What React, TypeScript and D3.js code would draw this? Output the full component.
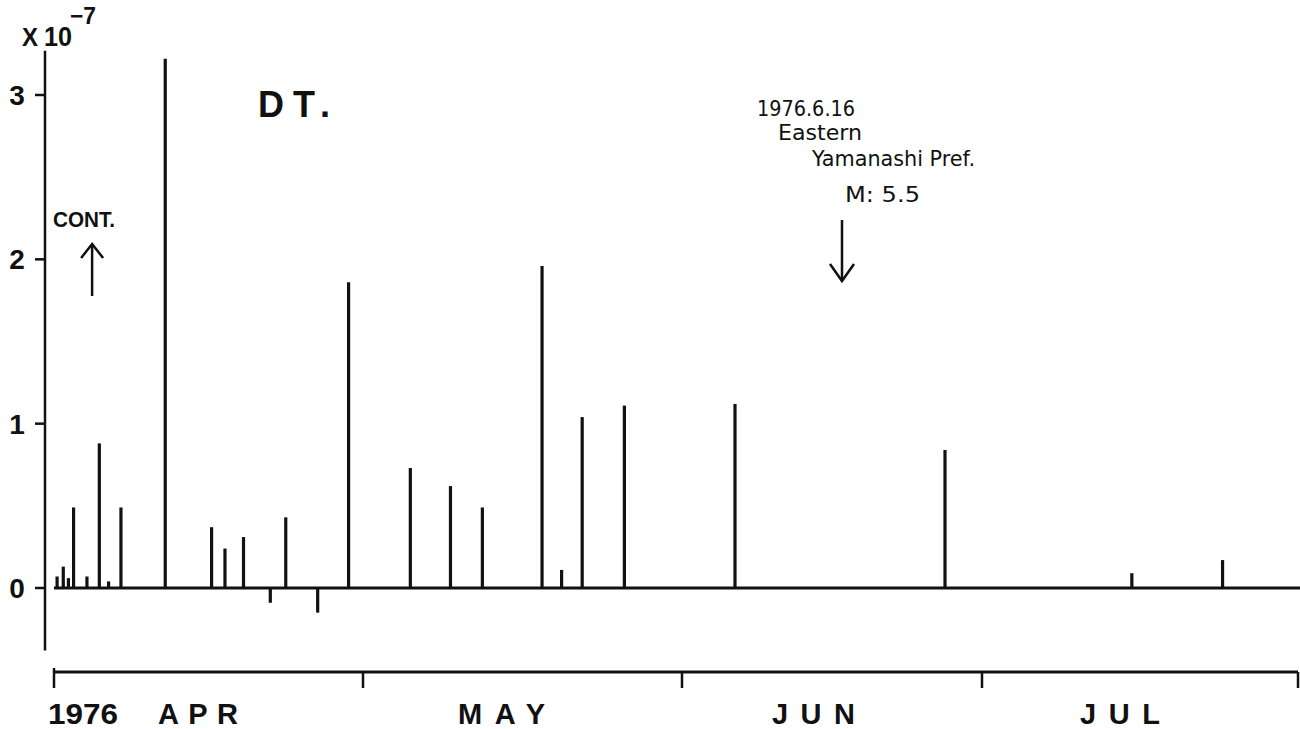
import React from 'react';
import * as d3 from 'd3';

// days counted from 1976-04-01 (month boundaries at 0, 30, 61, 91, 122)
const monthStarts = [0, 30, 61, 91, 122];
const monthNames = ['APR', 'MAY', 'JUN', 'JUL'];
const barDays = [0.3, 0.9, 1.4, 1.9, 3.2, 4.4, 5.3, 6.5, 10.8, 15.3, 16.6, 18.4, 21.0, 22.5, 25.6, 28.6,
  34.6, 38.5, 41.6, 47.4, 49.3, 51.3, 55.4, 66.3, 87.3, 105.7, 114.6];
const barValues = [0.07, 0.13, 0.06, 0.49, 0.07, 0.88, 0.04, 0.49, 3.22, 0.37, 0.24, 0.31, -0.09, 0.43, -0.15, 1.86,
  0.73, 0.62, 0.49, 1.96, 0.11, 1.04, 1.11, 1.12, 0.84, 0.09, 0.17];
const yTicks = [0, 1, 2, 3];
const quakeDay = 77;
const quakeLines = ['1976.6.16', 'Eastern', 'Yamanashi Pref.', 'M: 5.5'];

const font = "'Liberation Sans', 'DejaVu Sans', sans-serif";
const noteFont = "'DejaVu Sans', sans-serif";

export default function App() {
  const x = d3.scaleLinear().domain(monthStarts).range([54, 363, 682, 982, 1298]);
  const y = d3.scaleLinear().domain([0, 3]).range([588, 95]);
  const axisY = 672;

  // where each annotation line sits: [left x, baseline, width]
  const notePos = [[757, 116, 98], [778, 140, 84], [812, 166, 163], [845, 202, 75]];

  return (
    <svg width={1300} height={729} style={{ position: 'absolute', left: 0, top: 0, background: '#fff' }}
      fontFamily={font} fill="#111">
      {/* y axis */}
      <line x1={45} x2={45} y1={y(3.27)} y2={y(-0.38)} stroke="#111" strokeWidth={2.5} />
      {yTicks.map(t => (
        <g key={t}>
          <line x1={35} x2={45} y1={y(t)} y2={y(t)} stroke="#111" strokeWidth={2.5} />
          <text x={17} y={y(t)} dy="0.36em" textAnchor="middle" fontSize={28} fontWeight="bold">{t}</text>
        </g>
      ))}
      <text x={22} y={46} fontSize={26} fontWeight="bold" textLength={16} lengthAdjust="spacingAndGlyphs">X</text>
      <text x={44} y={46} fontSize={28} fontWeight="bold" textLength={28} lengthAdjust="spacingAndGlyphs">10</text>
      <text x={70} y={24} fontSize={24} fontWeight="bold" textLength={26} lengthAdjust="spacingAndGlyphs">−7</text>

      {/* zero line */}
      <line x1={x(0)} x2={1300} y1={y(0)} y2={y(0)} stroke="#111" strokeWidth={3} />

      {/* bars */}
      {barDays.map((d, i) => (
        <line key={i} x1={x(d)} x2={x(d)} y1={y(0)} y2={y(barValues[i])} stroke="#111" strokeWidth={3.2} />
      ))}

      <text x={258} y={117} fontSize={36} fontWeight="bold" textLength={72} lengthAdjust="spacing">DT.</text>

      {/* CONT. arrow */}
      <text x={53} y={227} fontSize={22} fontWeight="bold" textLength={62} lengthAdjust="spacingAndGlyphs">CONT.</text>
      <line x1={x(3.7)} x2={x(3.7)} y1={296} y2={244} stroke="#111" strokeWidth={2.5} />
      <polyline points={`${x(3.7) - 11},${258} ${x(3.7)},${244} ${x(3.7) + 11},${258}`} fill="none" stroke="#111" strokeWidth={2.5} />

      {/* earthquake annotation */}
      {quakeLines.map((s, i) => (
        <text key={s} x={notePos[i][0]} y={notePos[i][1]} fontSize={22} fontFamily={noteFont}
          textLength={notePos[i][2]} lengthAdjust="spacingAndGlyphs">{s}</text>
      ))}
      <line x1={x(quakeDay)} x2={x(quakeDay)} y1={220} y2={281} stroke="#111" strokeWidth={2.5} />
      <polyline points={`${x(quakeDay) - 12},${264} ${x(quakeDay)},${281} ${x(quakeDay) + 12},${264}`} fill="none" stroke="#111" strokeWidth={2.5} />

      {/* time axis */}
      <line x1={x(0)} x2={x(122)} y1={axisY} y2={axisY} stroke="#111" strokeWidth={3} />
      {monthStarts.map((m, i) => (
        <line key={m} x1={x(m)} x2={x(m)} y1={i === 0 ? axisY - 4 : axisY} y2={axisY + 16} stroke="#111" strokeWidth={2.5} />
      ))}
      <text x={48} y={724} fontSize={29} fontWeight="bold" textLength={70} lengthAdjust="spacingAndGlyphs">1976</text>
      {monthNames.map((m, i) => (
        <text key={m} x={[158, 458, 772, 1080][i]} y={724} fontSize={29} fontWeight="bold"
          textLength={[80, 87, 83, 80][i]} lengthAdjust="spacing">{m}</text>
      ))}
    </svg>
  );
}
